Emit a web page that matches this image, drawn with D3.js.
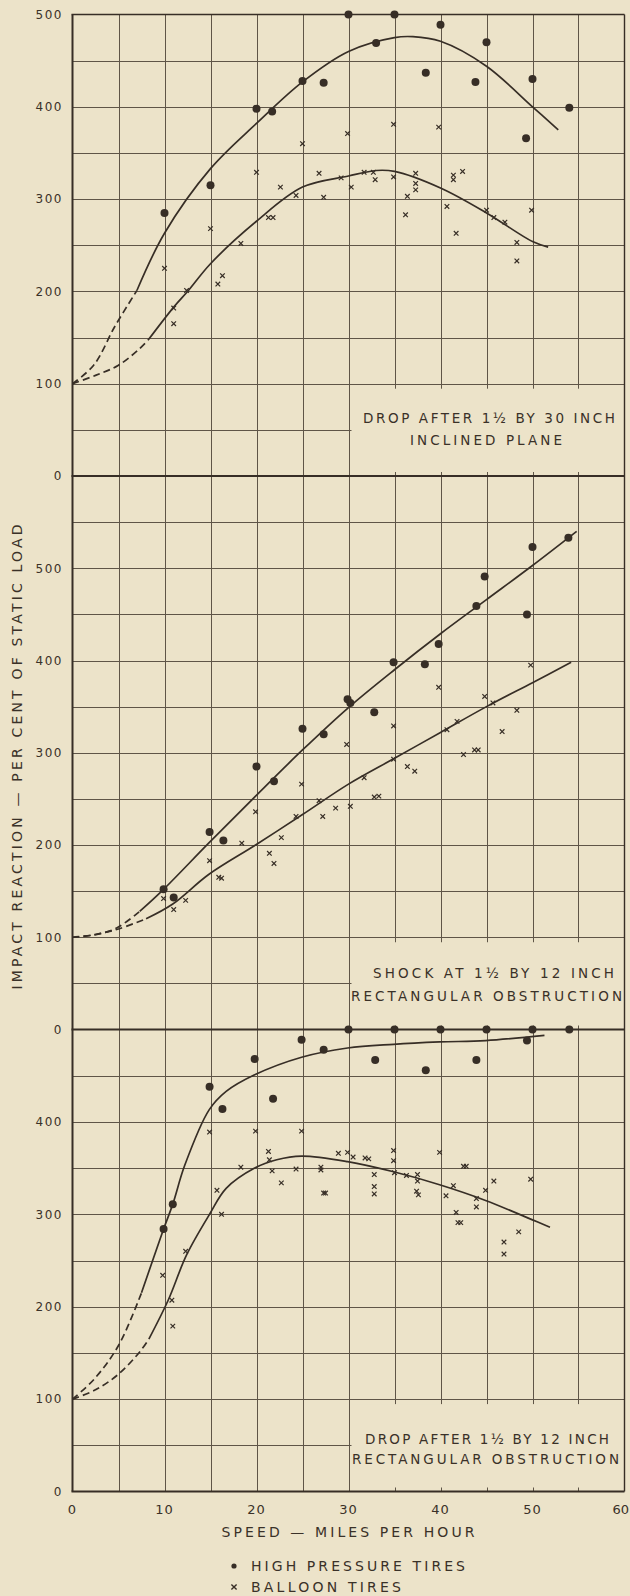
<!DOCTYPE html>
<html>
<head>
<meta charset="utf-8">
<script src="https://cdn.jsdelivr.net/npm/d3@7"></script>
<style>
  html, body { margin: 0; padding: 0; background: #ece3c9; }
  svg { display: block; }
  text { font-family: "DejaVu Sans", "Liberation Sans", sans-serif; fill: #3a3128; }
</style>
</head>
<body>
<div id="chart"></div>
<script>
// speed in miles per hour, impact reaction in per cent of static load
const xTicks = [0, 10, 20, 30, 40, 50, 60];

// panel 1 : drop after 1 1/2 by 30 inch inclined plane
const p1Ticks = [0, 100, 200, 300, 400, 500];
const p1HighPressure = [[10,285],[15,315],[20,398],[21.7,395],[25,428],[27.3,426],[30,500],[33,469],
  [35,500],[38.4,437],[40,489],[43.8,427],[45,470],[49.3,366],[50,430],[54,399]];
const p1Balloon = [[10,225],[11,182],[11,165],[12.4,201],[15,268],[15.8,208],[16.3,217],[18.3,252],
  [20,329],[21.3,280],[21.8,280],[22.6,313],[24.3,304],[25,360],[26.8,328],[27.3,302],[29.2,323],
  [29.9,371],[30.3,313],[31.7,329],[32.7,329],[32.9,321],[34.9,381],[34.9,324],[36.2,283],[36.4,303],
  [37.3,328],[37.3,317],[37.3,310],[39.8,378],[40.7,292],[41.4,326],[41.4,321],[41.7,263],[42.4,330],
  [45,288],[45.8,280],[47,275],[48.3,253],[48.3,233],[49.9,288]];
const p1HighDashed = [[0,100],[2.3,120],[4.6,162],[7,201]];
const p1HighCurve = [[7,201],[10,263],[15,333],[20,382],[25,427],[30,460],[35,475],[37,476],
  [40,471],[45,444],[50,400],[52.8,375]];
const p1BalloonDashed = [[0,100],[2.5,109],[5,120],[7.3,138],[8.2,147]];
const p1BalloonCurve = [[8.2,147],[11,183],[12.6,201],[15,230],[20,276],[25,313],[30,325],
  [33,331],[35,330],[40,312],[45,285],[50,254],[51.7,248]];
const p1Caption = ["DROP AFTER 1½ BY 30 INCH", "INCLINED PLANE"];

// panel 2 : shock at 1 1/2 by 12 inch rectangular obstruction
const p2Ticks = [0, 100, 200, 300, 400, 500];
const p2HighPressure = [[9.9,152],[11,143],[14.9,214],[16.4,205],[20,285],[21.9,269],[25,326],
  [27.3,320],[29.9,358],[30.2,354],[32.8,344],[34.9,398],[38.3,396],[39.8,418],[43.9,459],
  [44.8,491],[49.4,450],[50,523],[53.9,533]];
const p2Balloon = [[9.9,142],[11,130],[12.3,140],[14.9,183],[15.9,165],[16.2,164],[18.4,202],
  [19.9,236],[21.4,191],[21.9,180],[22.7,208],[24.3,231],[24.9,266],[26.8,248],[27.2,231],[28.6,240],
  [29.8,309],[30.2,242],[31.7,273],[32.8,252],[33.3,253],[34.9,329],[34.9,293],[36.4,285],
  [37.2,280],[39.8,371],[40.7,325],[41.8,334],[42.5,298],[43.7,303],[44.1,303],[44.8,361],
  [45.7,354],[46.7,323],[48.3,346],[49.8,395]];
const p2HighDashed = [[0,100],[2.3,102.5],[4.8,110],[7.3,128]];
const p2HighCurve = [[7.3,128],[9.7,150],[14.8,202],[19.9,253],[25,303],[30,349],
  [35,390],[40,429],[45,466],[50,503],[54.8,540]];
const p2BalloonDashed = [[0,100],[2.5,103],[5,109],[8,120]];
const p2BalloonCurve = [[8,120],[10.9,136],[14.8,168],[19.9,200],[25,233],[30,266],
  [35,294],[40,322],[45,350],[50,376],[54.2,398]];
const p2Caption = ["SHOCK AT 1½ BY 12 INCH", "RECTANGULAR OBSTRUCTION"];

// panel 3 : drop after 1 1/2 by 12 inch rectangular obstruction
const p3Ticks = [0, 100, 200, 300, 400];
const p3HighPressure = [[9.9,284],[10.9,311],[14.9,438],[16.3,414],[19.8,468],[21.8,425],[24.9,489],
  [27.3,478],[30,500],[32.9,467],[35,500],[38.4,456],[40,500],[43.9,467],[45,500],[49.4,488],
  [50,500],[54,500]];
const p3Balloon = [[9.8,234],[10.8,207],[10.9,179],[12.3,260],[14.9,389],[15.7,326],[16.2,300],
  [18.3,351],[19.9,390],[21.3,368],[21.4,359],[21.7,347],[22.7,334],[24.3,349],[24.9,390],[27,351],
  [27,348],[27.3,323],[27.5,323],[28.9,366],[29.9,367],[30.5,362],[31.8,361],[32.2,360],[32.8,343],
  [32.8,330],[32.8,322],[34.9,369],[34.9,358],[35,345],[36.3,342],[37.5,343],[37.5,336],[37.4,325],
  [37.6,321],[39.9,367],[40.6,320],[41.4,331],[41.7,302],[41.9,291],[42.2,291],[42.5,352],[42.8,352],
  [43.9,317],[43.9,308],[44.9,326],[45.8,336],[46.9,270],[46.9,257],[48.5,281],[49.8,338]];
const p3HighDashed = [[0,100],[2.3,121],[5,158],[7.5,215]];
const p3HighCurve = [[7.5,215],[9.9,284],[10.9,311],[12.2,353],[14.85,413],[16.7,433],[19.8,451],
  [24.9,470],[29.9,480],[34.9,484],[39.9,486.5],[44.9,488],[51.3,493.6]];
const p3BalloonDashed = [[0,100],[2.5,110],[5,127],[7.3,151],[8.3,165]];
const p3BalloonCurve = [[8.3,165],[10.4,207],[12.4,256],[14.9,300],[16.7,328],[19.8,350],
  [22.2,359],[24.9,363],[29.9,357],[34.9,346],[39.9,332],[44.9,315],[50,294],[51.9,286]];
const p3Caption = ["DROP AFTER 1½ BY 12 INCH", "RECTANGULAR OBSTRUCTION"];

const legendLabels = ["HIGH PRESSURE TIRES", "BALLOON TIRES"];
const xTitle = "SPEED — MILES PER HOUR";
const yTitle = "IMPACT REACTION — PER CENT OF STATIC LOAD";

// ---- layout ----
const width = 630, height = 1596;
const ink = "#372e26", gridColor = "#5f5547", paper = "#ece3c9";

const x = d3.scaleLinear().domain([0, 60]).range([72.5, 624.5]);

const panels = [
  { max: 500, top: 14.5, bottom: 476, ticks: p1Ticks,
    high: p1HighPressure, balloon: p1Balloon,
    curves: [[p1HighDashed, true], [p1HighCurve, false], [p1BalloonDashed, true], [p1BalloonCurve, false]],
    caption: p1Caption, capY: [-53, -31], capX: [363, 410], capW: [252, 152] },
  { max: 600, top: 476, bottom: 1029.5, ticks: p2Ticks,
    high: p2HighPressure, balloon: p2Balloon,
    curves: [[p2HighDashed, true], [p2HighCurve, false], [p2BalloonDashed, true], [p2BalloonCurve, false]],
    caption: p2Caption, capY: [-52, -29], capX: [373, 351], capW: [241, 271] },
  { max: 500, top: 1029.5, bottom: 1491.5, ticks: p3Ticks,
    high: p3HighPressure, balloon: p3Balloon,
    curves: [[p3HighDashed, true], [p3HighCurve, false], [p3BalloonDashed, true], [p3BalloonCurve, false]],
    caption: p3Caption, capY: [-48, -28], capX: [365, 352], capW: [244, 267] }
];

const svg = d3.select('#chart')
  .append('svg')
  .attr('width', width)
  .attr('height', height);

svg.append('rect')
  .attr('width', width)
  .attr('height', height)
  .attr('fill', paper);

panels.forEach(function(p) {
  p.y = d3.scaleLinear().domain([0, p.max]).range([p.bottom, p.top]);
  drawPanel(p);
});

// outer frame
svg.append('line')
  .attr('x1', x(0)).attr('x2', x(0))
  .attr('y1', panels[0].top).attr('y2', panels[2].bottom)
  .attr('stroke', ink).attr('stroke-width', 2);
svg.append('line')
  .attr('x1', x(60)).attr('x2', x(60))
  .attr('y1', panels[0].top).attr('y2', panels[2].bottom)
  .attr('stroke', ink).attr('stroke-width', 1.4);
[panels[0].top, panels[0].bottom, panels[1].bottom, panels[2].bottom].forEach(function(yy, i) {
  svg.append('line')
    .attr('x1', x(0) - 1).attr('x2', x(60))
    .attr('y1', yy).attr('y2', yy)
    .attr('stroke', ink)
    .attr('stroke-width', i == 0 ? 1.5 : 2);
});

// x tick labels
svg.append('g')
  .selectAll('text')
  .data(xTicks)
  .enter().append('text')
  .attr('x', d => d == 60 ? 629 : x(d))
  .attr('y', panels[2].bottom + 22)
  .attr('text-anchor', d => d == 60 ? 'end' : 'middle')
  .attr('font-size', 13)
  .attr('letter-spacing', d => d == 60 ? 0 : 1)
  .text(d => d);

svg.append('text')
  .attr('x', 221.5)
  .attr('y', 1537)
  .attr('font-size', 14)
  .attr('textLength', 253)
  .attr('lengthAdjust', 'spacing')
  .text(xTitle);

svg.append('text')
  .attr('transform', 'translate(17,757) rotate(-90)')
  .attr('text-anchor', 'middle')
  .attr('dy', '0.36em')
  .attr('font-size', 14)
  .attr('textLength', 465)
  .attr('lengthAdjust', 'spacing')
  .text(yTitle);

// legend
let legend = svg.append('g');
legend.append('circle')
  .attr('cx', 234).attr('cy', 1566)
  .attr('r', 2.6)
  .attr('fill', ink);
legend.append('path')
  .attr('d', cross(234, 1587, 2.6))
  .attr('stroke', ink)
  .attr('stroke-width', 1.4);
legend.selectAll('text')
  .data(legendLabels)
  .enter().append('text')
  .attr('x', 251)
  .attr('y', (d, i) => 1571 + i * 21)
  .attr('font-size', 14)
  .attr('textLength', (d, i) => i == 0 ? 214 : 150)
  .attr('lengthAdjust', 'spacing')
  .text(d => d);

function cross(cx, cy, s) {
  return "M" + (cx - s) + "," + (cy - s) + "L" + (cx + s) + "," + (cy + s)
    + "M" + (cx - s) + "," + (cy + s) + "L" + (cx + s) + "," + (cy - s);
}

function drawPanel(p) {
  let y = p.y;
  let g = svg.append('g');
  let boxLeft = x(30) + 3;
  let boxTop = y(100) + 5;
  let boxBottom = y(0) - 4;
  // keep 1px grid lines on whole pixels
  let crisp = v => Math.round(v) + 0.5;

  // grid
  g.selectAll('line.h')
    .data(d3.range(50, p.max, 50))
    .enter().append('line')
    .attr('class', 'h')
    .attr('x1', x(0)).attr('x2', x(60))
    .attr('y1', d => crisp(y(d))).attr('y2', d => crisp(y(d)))
    .attr('stroke', gridColor)
    .attr('stroke-width', 1);
  g.selectAll('line.v')
    .data(d3.range(5, 60, 5))
    .enter().append('line')
    .attr('class', 'v')
    .attr('x1', d => crisp(x(d))).attr('x2', d => crisp(x(d)))
    .attr('y1', y(p.max)).attr('y2', y(0))
    .attr('stroke', gridColor)
    .attr('stroke-width', 1);

  // blank area for caption, with the small ticks left at the bottom
  g.append('rect')
    .attr('x', boxLeft)
    .attr('y', boxTop)
    .attr('width', x(60) - boxLeft - 0.5)
    .attr('height', boxBottom - boxTop)
    .attr('fill', paper);

  g.selectAll('text.cap')
    .data(p.caption)
    .enter().append('text')
    .attr('class', 'cap')
    .attr('x', (d, i) => p.capX[i])
    .attr('y', (d, i) => y(0) + p.capY[i])
    .attr('font-size', 13.5)
    .attr('textLength', (d, i) => p.capW[i])
    .attr('lengthAdjust', 'spacing')
    .text(d => d);

  // y tick labels
  g.selectAll('text.tick')
    .data(p.ticks)
    .enter().append('text')
    .attr('class', 'tick')
    .attr('x', 63)
    .attr('y', d => y(d))
    .attr('dy', '0.36em')
    .attr('text-anchor', 'end')
    .attr('font-size', 12)
    .attr('letter-spacing', 1.5)
    .text(d => d);

  // curves
  let line = d3.line()
    .x(d => x(d[0]))
    .y(d => y(d[1]))
    .curve(d3.curveCatmullRom.alpha(0.5));
  p.curves.forEach(function(c) {
    g.append('path')
      .attr('d', line(c[0]))
      .attr('fill', 'none')
      .attr('stroke', ink)
      .attr('stroke-width', 1.7)
      .attr('stroke-dasharray', c[1] ? '7,4' : null);
  });

  // points
  g.selectAll('circle.high')
    .data(p.high)
    .enter().append('circle')
    .attr('class', 'high')
    .attr('cx', d => x(d[0]))
    .attr('cy', d => y(d[1]))
    .attr('r', 4)
    .attr('fill', ink);
  g.selectAll('path.balloon')
    .data(p.balloon)
    .enter().append('path')
    .attr('class', 'balloon')
    .attr('d', d => cross(x(d[0]), y(d[1]), 2.3))
    .attr('stroke', ink)
    .attr('stroke-width', 1.2);
}
</script>
</body>
</html>
